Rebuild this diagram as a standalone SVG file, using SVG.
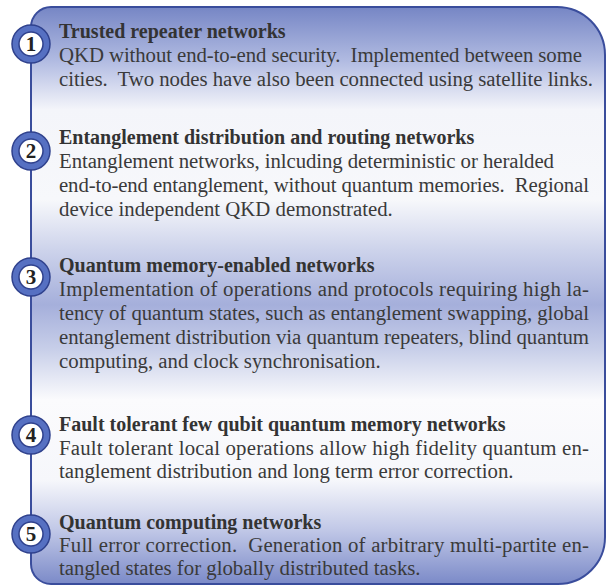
<svg xmlns="http://www.w3.org/2000/svg" width="606" height="586" viewBox="0 0 606 586">
<defs>
<linearGradient id="bg" gradientUnits="userSpaceOnUse" x1="0" y1="7" x2="0" y2="584">
<stop offset="0" stop-color="#7686c5"/>
<stop offset="0.092" stop-color="#b0bae1"/>
<stop offset="0.178" stop-color="#f4f5fa"/>
<stop offset="0.334" stop-color="#f7f8fb"/>
<stop offset="0.421" stop-color="#cdd3eb"/>
<stop offset="0.516" stop-color="#a5afdb"/>
<stop offset="0.594" stop-color="#c8cfe9"/>
<stop offset="0.681" stop-color="#fbfbfd"/>
<stop offset="0.820" stop-color="#f6f7fb"/>
<stop offset="0.906" stop-color="#c1c8e7"/>
<stop offset="1" stop-color="#7b8ac8"/>
</linearGradient>
</defs>
<style>
.panel{fill:url(#bg);stroke:#3a4d9c;stroke-width:2}
.ring{fill:#5670c2;stroke:#2f418d;stroke-width:1.5}
.hole{fill:#ffffff;stroke:#2f418d;stroke-width:1.5}
.num{font-family:"Liberation Serif","Times New Roman",serif;font-weight:bold;font-size:21px;fill:#222;text-anchor:middle}
.h{font-family:"Liberation Serif","Times New Roman",serif;font-weight:bold;font-size:20px;fill:#333}
.b{font-family:"Liberation Serif","Times New Roman",serif;font-size:20.8px;fill:#3a3a3a;white-space:pre}
</style>
<g id="connectors">
<path class="panel" d="M51,7 H557 A48,48 0 0 1 605,55 V537 A47,47 0 0 1 558,584 H51 A20,20 0 0 1 31,564 V27 A20,20 0 0 1 51,7 Z"/>
</g>
<g id="node1">
<circle class="ring" cx="31" cy="44" r="19"/>
<circle class="hole" cx="31" cy="44" r="12"/>
<text class="num" x="31" y="51">1</text>
<text class="h" x="59" y="38">Trusted repeater networks</text>
<text class="b" x="59" y="62" textLength="523" lengthAdjust="spacing">QKD without end-to-end security.  Implemented between some</text>
<text class="b" x="59" y="86" textLength="534" lengthAdjust="spacing">cities.  Two nodes have also been connected using satellite links.</text>
</g>
<g id="node2">
<circle class="ring" cx="31" cy="151" r="19"/>
<circle class="hole" cx="31" cy="151" r="12"/>
<text class="num" x="31" y="158">2</text>
<text class="h" x="59" y="144">Entanglement distribution and routing networks</text>
<text class="b" x="59" y="168" textLength="495" lengthAdjust="spacing">Entanglement networks, inlcuding deterministic or heralded</text>
<text class="b" x="59" y="192" textLength="530" lengthAdjust="spacing">end-to-end entanglement, without quantum memories.  Regional</text>
<text class="b" x="59" y="216">device independent QKD demonstrated.</text>
</g>
<g id="node3">
<circle class="ring" cx="31" cy="277" r="19"/>
<circle class="hole" cx="31" cy="277" r="12"/>
<text class="num" x="31" y="284">3</text>
<text class="h" x="59" y="272">Quantum memory-enabled networks</text>
<text class="b" x="59" y="296" textLength="530" lengthAdjust="spacing">Implementation of operations and protocols requiring high la-</text>
<text class="b" x="59" y="320" textLength="530" lengthAdjust="spacing">tency of quantum states, such as entanglement swapping, global</text>
<text class="b" x="59" y="344" textLength="530" lengthAdjust="spacing">entanglement distribution via quantum repeaters, blind quantum</text>
<text class="b" x="59" y="368">computing, and clock synchronisation.</text>
</g>
<g id="node4">
<circle class="ring" cx="31" cy="435" r="19"/>
<circle class="hole" cx="31" cy="435" r="12"/>
<text class="num" x="31" y="442">4</text>
<text class="h" x="59" y="431">Fault tolerant few qubit quantum memory networks</text>
<text class="b" x="59" y="455" textLength="530" lengthAdjust="spacing">Fault tolerant local operations allow high fidelity quantum en-</text>
<text class="b" x="59" y="478">tanglement distribution and long term error correction.</text>
</g>
<g id="node5">
<circle class="ring" cx="31" cy="534" r="19"/>
<circle class="hole" cx="31" cy="534" r="12"/>
<text class="num" x="31" y="541">5</text>
<text class="h" x="59" y="529">Quantum computing networks</text>
<text class="b" x="59" y="552" textLength="530" lengthAdjust="spacing">Full error correction.  Generation of arbitrary multi-partite en-</text>
<text class="b" x="59" y="575">tangled states for globally distributed tasks.</text>
</g>
</svg>
